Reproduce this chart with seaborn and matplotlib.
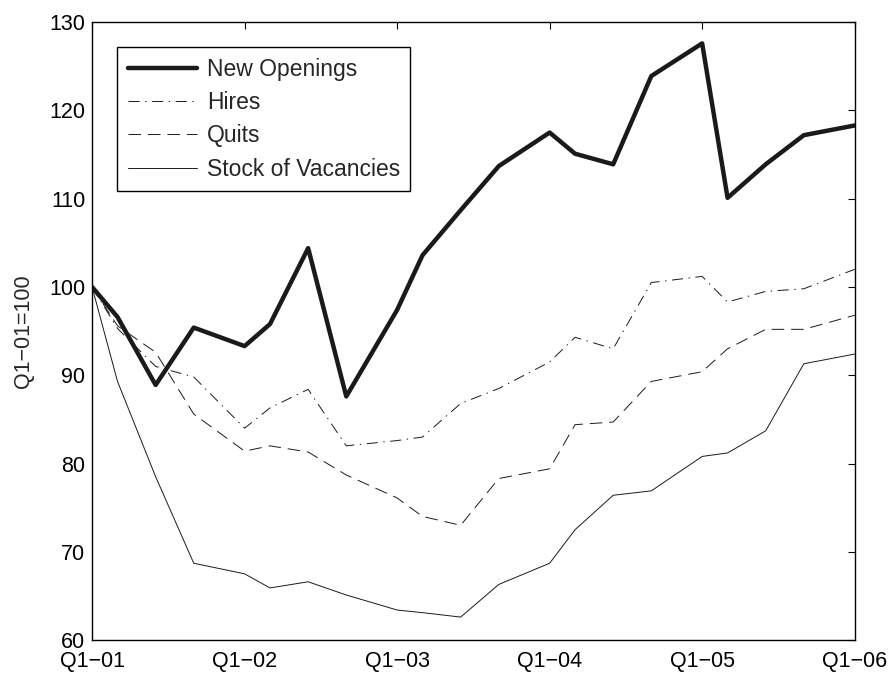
import numpy as np
import pandas as pd
import seaborn as sns
import matplotlib.pyplot as plt

sns.set_style('white')
plt.rcParams['font.family'] = ['Liberation Sans', 'DejaVu Sans']
plt.rcParams['lines.scale_dashes'] = False

# Date: indici trimestriale, Q1-01 = 100
ani = [2001, 2002, 2003, 2004, 2005]
luni_in_an = [0, 2, 5, 8]
puncte_x = [a + l / 12 for a in ani for l in luni_in_an] + [2006]

new_openings = [100.0, 96.6, 88.9, 95.4, 93.3, 95.8, 104.4, 87.6, 97.4, 103.6, 108.7,
                113.7, 117.5, 115.1, 113.9, 123.9, 127.6, 110.1, 113.9, 117.2, 118.3]
hires = [100.0, 95.3, 91.0, 89.8, 84.0, 86.3, 88.4, 82.0, 82.6, 83.0, 86.8,
         88.5, 91.5, 94.3, 93.0, 100.5, 101.2, 98.3, 99.5, 99.8, 102.0]
quits = [100.0, 95.6, 92.6, 85.6, 81.4, 82.0, 81.3, 78.7, 76.1, 74.0, 73.0,
         78.3, 79.4, 84.4, 84.7, 89.3, 90.4, 93.0, 95.2, 95.2, 96.8]
stock_vacancies = [100.0, 89.3, 78.5, 68.7, 67.5, 65.9, 66.6, 65.1, 63.4, 63.1, 62.6,
                   66.3, 68.7, 72.5, 76.4, 76.9, 80.8, 81.2, 83.7, 91.3, 92.4]

etichete_x = ['Q1\u221201', 'Q1\u221202', 'Q1\u221203', 'Q1\u221204', 'Q1\u221205', 'Q1\u221206']

date = pd.DataFrame({'x': puncte_x, 'New Openings': new_openings, 'Hires': hires,
                     'Quits': quits, 'Stock of Vacancies': stock_vacancies})

stiluri = {
    'New Openings': dict(lw=3.2, ls='-'),
    'Hires': dict(lw=0.7, ls=(0, (8, 4, 1, 4))),
    'Quits': dict(lw=0.7, ls=(0, (9, 5))),
    'Stock of Vacancies': dict(lw=0.7, ls='-'),
}

fig, ax = plt.subplots(figsize=(8.94, 6.73), dpi=100)
fig.subplots_adjust(left=0.103, right=0.956, top=0.967, bottom=0.049)

for serie, st in stiluri.items():
    sns.lineplot(data=date, x='x', y=serie, ax=ax, color='#1a1a1a', lw=st['lw'],
                 linestyle=st['ls'], label=serie)

ax.set_xlim(2001, 2006)
ax.set_ylim(60, 130)
ax.set_xticks(range(2001, 2007))
ax.set_xticklabels(etichete_x)
ax.set_yticks(range(60, 131, 10))
ax.set_xlabel('')
ax.set_ylabel('Q1\u221201=100', fontsize=15.5, labelpad=11)
ax.tick_params(direction='in', length=5, width=0.8, labelsize=15.5,
               top=True, right=True, colors='black')
ax.tick_params(axis='x', pad=8)
ax.tick_params(axis='y', pad=5)
for s in ax.spines.values():
    s.set_linewidth(1.0)
    s.set_color('black')

leg = ax.legend(loc='upper left', fontsize=16.5, frameon=True, fancybox=False,
                edgecolor='black', framealpha=1, handlelength=3.05, handletextpad=0.4,
                labelspacing=0.45, borderaxespad=1.1, borderpad=0.45)
leg.get_frame().set_linewidth(1.0)

fig.savefig('out.png', dpi=100)
